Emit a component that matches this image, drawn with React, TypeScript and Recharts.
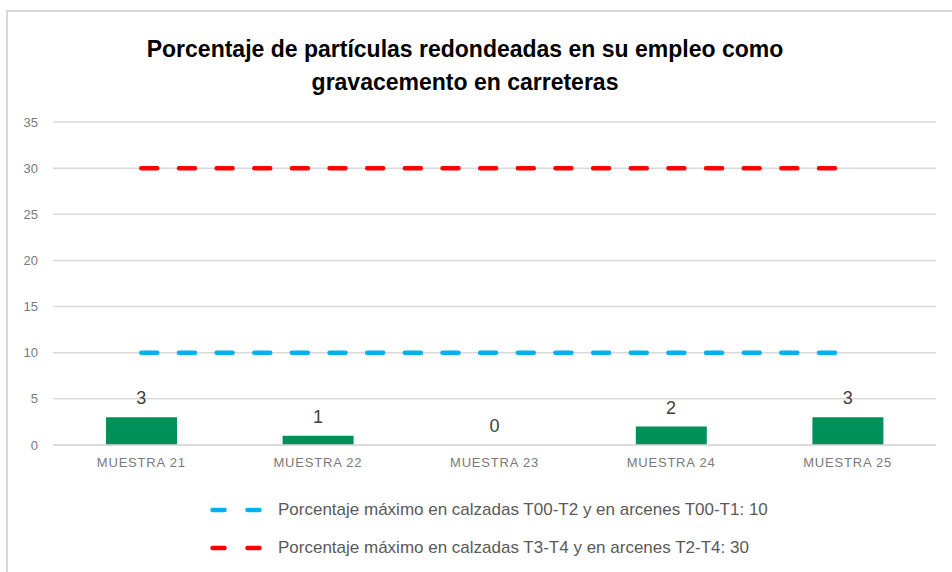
import React from 'react';
import { ComposedChart, Bar, Line, XAxis, YAxis, CartesianGrid, LabelList } from 'recharts';

const categories = ['MUESTRA 21', 'MUESTRA 22', 'MUESTRA 23', 'MUESTRA 24', 'MUESTRA 25'];
const values = [3, 1, 0, 2, 3];
const limitLow = [10, 10, 10, 10, 10];
const limitHigh = [30, 30, 30, 30, 30];
const yTicks = [0, 5, 10, 15, 20, 25, 30, 35];
const titleLines = ['Porcentaje de partículas redondeadas en su empleo como', 'gravacemento en carreteras'];
const legendNames = [
  'Porcentaje máximo en calzadas T00-T2 y en arcenes T00-T1: 10',
  'Porcentaje máximo en calzadas T3-T4 y en arcenes T2-T4: 30',
];
const legendColors = ['#00b0f0', '#ff0000'];

const data = categories.map((c, i) => ({
  name: c,
  value: values[i],
  low: limitLow[i],
  high: limitHigh[i],
}));

const FONT = '"Liberation Sans", Arial, sans-serif';

export default function App() {
  return (
    <div style={{ position: 'fixed', left: 0, top: 0, width: 952, height: 572, background: '#fff', overflow: 'hidden', fontFamily: FONT }}>
      <div style={{ position: 'absolute', left: 6, top: 10, width: 1000, height: 700, border: '2px solid #d9d9d9', boxSizing: 'border-box' }} />
      <div style={{ position: 'absolute', left: 0, top: 33, width: 930, textAlign: 'center', fontWeight: 'bold', fontSize: 23, lineHeight: '33px', color: '#000' }}>
        {titleLines.map((t) => (
          <div key={t}>{t}</div>
        ))}
      </div>
      <div style={{ position: 'absolute', left: 0, top: 0 }}>
        <ComposedChart width={952} height={572} data={data} margin={{ top: 122, right: 16, left: 0, bottom: 97 }}>
          <CartesianGrid vertical={false} stroke="#d9d9d9" strokeWidth={1.5} />
          <XAxis
            dataKey="name"
            height={30}
            axisLine={{ stroke: '#d9d9d9', strokeWidth: 1.5 }}
            tickLine={false}
            tickSize={0}
            tickMargin={13}
            tick={{ fill: '#7a7a7a', fontSize: 13, fontFamily: FONT, letterSpacing: 0.8 }}
          />
          <YAxis
            domain={[0, 35]}
            ticks={yTicks}
            width={53}
            axisLine={false}
            tickLine={false}
            tickSize={0}
            tickMargin={15}
            tick={{ fill: '#7a7a7a', fontSize: 13, fontFamily: FONT }}
          />
          <Bar dataKey="value" fill="#00915a" barSize={71} isAnimationActive={false} />
          <Line
            dataKey="value"
            stroke="none"
            dot={false}
            activeDot={false}
            legendType="none"
            isAnimationActive={false}
          >
            <LabelList dataKey="value" position="top" offset={13} fill="#404040" fontSize={18} fontFamily={FONT} />
          </Line>
          <Line
            dataKey="low"
            stroke={legendColors[0]}
            strokeWidth={4.5}
            strokeDasharray="16 21.65"
            strokeLinecap="round"
            dot={false}
            activeDot={false}
            isAnimationActive={false}
          />
          <Line
            dataKey="high"
            stroke={legendColors[1]}
            strokeWidth={4.5}
            strokeDasharray="16 21.65"
            strokeLinecap="round"
            dot={false}
            activeDot={false}
            isAnimationActive={false}
          />
        </ComposedChart>
      </div>
      {legendNames.map((n, i) => (
        <div key={n} style={{ position: 'absolute', left: 208, top: 498 + i * 38, height: 24, display: 'flex', alignItems: 'center' }}>
          <svg width={60} height={24}>
            <line x1={4.5} y1={12} x2={16.5} y2={12} stroke={legendColors[i]} strokeWidth={4.5} strokeLinecap="round" />
            <line x1={39.5} y1={12} x2={51.5} y2={12} stroke={legendColors[i]} strokeWidth={4.5} strokeLinecap="round" />
          </svg>
          <span style={{ marginLeft: 10, fontSize: 17, color: '#595959', whiteSpace: 'nowrap' }}>{n}</span>
        </div>
      ))}
    </div>
  );
}
